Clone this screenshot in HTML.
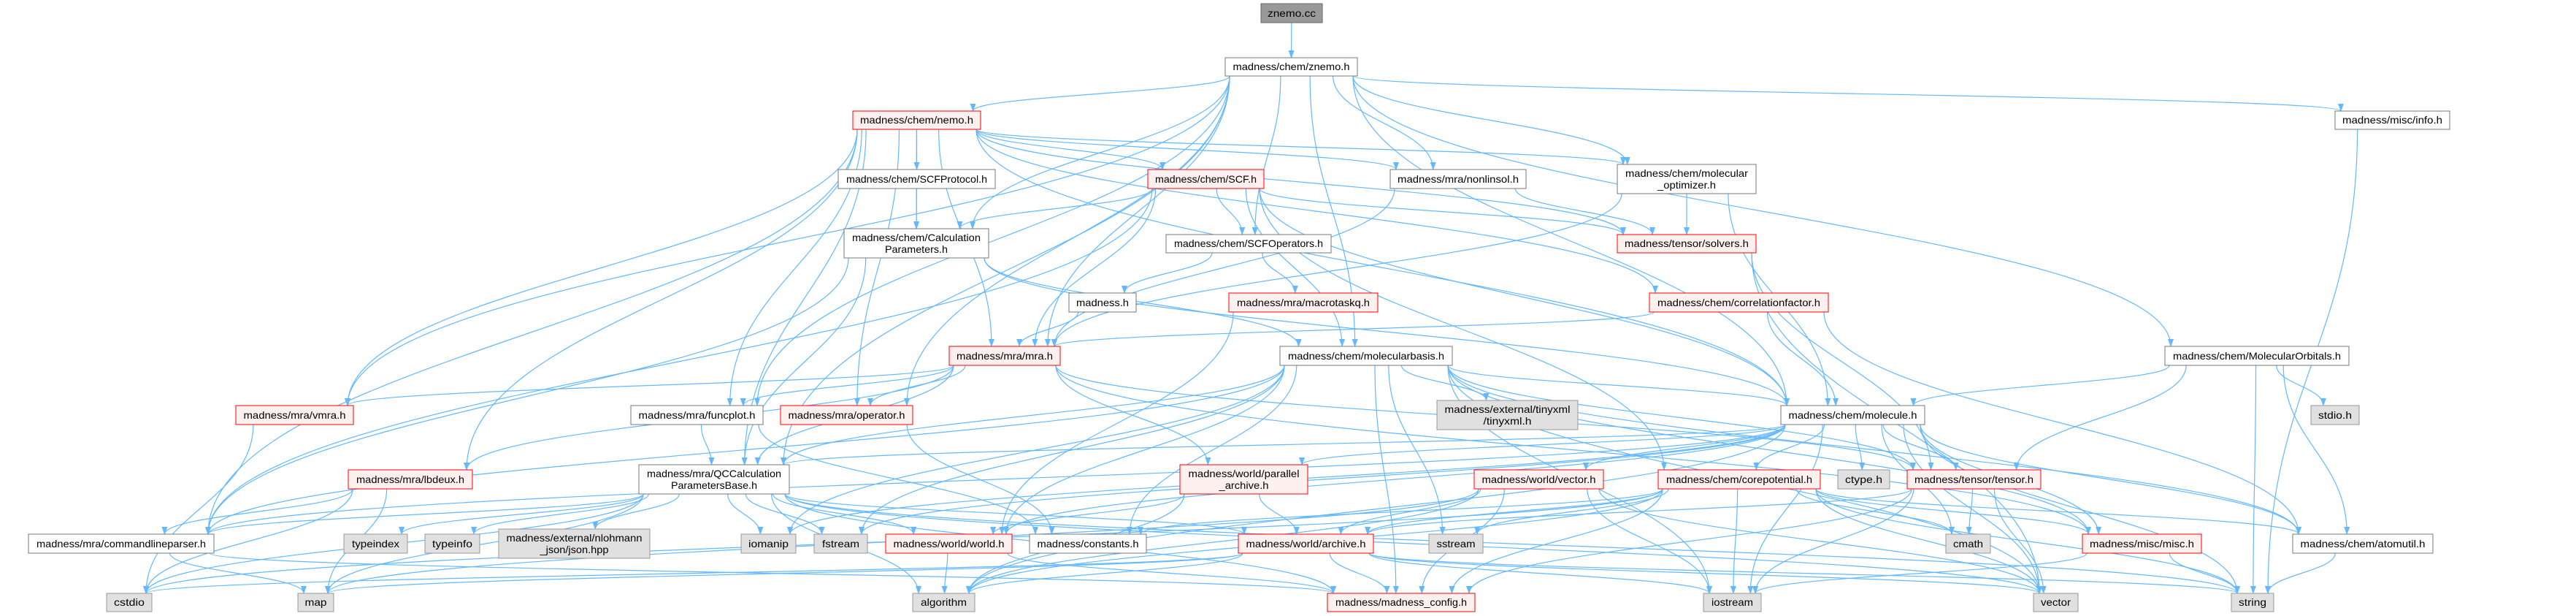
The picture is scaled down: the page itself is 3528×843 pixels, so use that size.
<!DOCTYPE html>
<html><head><meta charset="utf-8"><style>
html,body{margin:0;padding:0;background:#fff;}
svg{display:block;}
text{font-family:"Liberation Sans",sans-serif;font-size:14px;fill:#000;text-anchor:middle;}
</style></head><body>
<svg id="g" width="3528" height="843" viewBox="0 0 3528 843" xmlns="http://www.w3.org/2000/svg">
<defs><marker id="ah" markerWidth="11" markerHeight="8" refX="10" refY="4" orient="auto" markerUnits="userSpaceOnUse"><path d="M0,0 L11,4 L0,8 z" fill="#63b8ff"/></marker></defs>
<g id="edges" fill="none" stroke="#63b8ff" stroke-width="1.2"></g>
<g id="nodes">
<rect x="1727" y="5" width="84" height="26" fill="#999" stroke="#666"/><text x="1769" y="23" textLength="66" lengthAdjust="spacingAndGlyphs">znemo.cc</text>
<rect x="1678" y="79" width="181" height="25" fill="#fff" stroke="#777"/><text x="1768.5" y="96" textLength="160" lengthAdjust="spacingAndGlyphs">madness/chem/znemo.h</text>
<rect x="1168" y="152" width="175" height="25" fill="#fff0f0" stroke="#f00"/><text x="1255.5" y="169" textLength="155" lengthAdjust="spacingAndGlyphs">madness/chem/nemo.h</text>
<rect x="1148" y="232" width="215" height="26" fill="#fff" stroke="#777"/><text x="1255.5" y="250" textLength="193" lengthAdjust="spacingAndGlyphs">madness/chem/SCFProtocol.h</text>
<rect x="1572" y="232" width="159" height="26" fill="#fff0f0" stroke="#f00"/><text x="1651.5" y="250" textLength="139" lengthAdjust="spacingAndGlyphs">madness/chem/SCF.h</text>
<rect x="1904" y="232" width="186" height="26" fill="#fff" stroke="#777"/><text x="1997" y="250" textLength="166" lengthAdjust="spacingAndGlyphs">madness/mra/nonlinsol.h</text>
<rect x="2215" y="225" width="190" height="40" fill="#fff" stroke="#777"/><text x="2310" y="242" textLength="168" lengthAdjust="spacingAndGlyphs">madness/chem/molecular</text><text x="2310" y="258" textLength="80" lengthAdjust="spacingAndGlyphs">_optimizer.h</text>
<rect x="3198" y="152" width="157" height="25" fill="#fff" stroke="#777"/><text x="3276.5" y="169" textLength="137" lengthAdjust="spacingAndGlyphs">madness/misc/info.h</text>
<rect x="1156" y="313" width="198" height="40" fill="#fff" stroke="#777"/><text x="1255" y="330" textLength="176" lengthAdjust="spacingAndGlyphs">madness/chem/Calculation</text><text x="1255" y="346" textLength="86" lengthAdjust="spacingAndGlyphs">Parameters.h</text>
<rect x="1597" y="321" width="226" height="25" fill="#fff" stroke="#777"/><text x="1710" y="338" textLength="204" lengthAdjust="spacingAndGlyphs">madness/chem/SCFOperators.h</text>
<rect x="2215" y="321" width="190" height="25" fill="#fff0f0" stroke="#f00"/><text x="2310" y="338" textLength="170" lengthAdjust="spacingAndGlyphs">madness/tensor/solvers.h</text>
<rect x="1464" y="401" width="92" height="26" fill="#fff" stroke="#777"/><text x="1510" y="419" textLength="72" lengthAdjust="spacingAndGlyphs">madness.h</text>
<rect x="1683" y="401" width="204" height="26" fill="#fff0f0" stroke="#f00"/><text x="1785" y="419" textLength="182" lengthAdjust="spacingAndGlyphs">madness/mra/macrotaskq.h</text>
<rect x="2259" y="401" width="245" height="26" fill="#fff0f0" stroke="#f00"/><text x="2381.5" y="419" textLength="223" lengthAdjust="spacingAndGlyphs">madness/chem/correlationfactor.h</text>
<rect x="1300" y="474" width="152" height="26" fill="#fff0f0" stroke="#f00"/><text x="1376" y="492" textLength="132" lengthAdjust="spacingAndGlyphs">madness/mra/mra.h</text>
<rect x="1753" y="474" width="236" height="26" fill="#fff" stroke="#777"/><text x="1871" y="492" textLength="214" lengthAdjust="spacingAndGlyphs">madness/chem/molecularbasis.h</text>
<rect x="2965" y="474" width="252" height="26" fill="#fff" stroke="#777"/><text x="3091" y="492" textLength="230" lengthAdjust="spacingAndGlyphs">madness/chem/MolecularOrbitals.h</text>
<rect x="323" y="555" width="161" height="26" fill="#fff0f0" stroke="#f00"/><text x="403.5" y="573" textLength="140" lengthAdjust="spacingAndGlyphs">madness/mra/vmra.h</text>
<rect x="864" y="555" width="181" height="26" fill="#fff" stroke="#777"/><text x="954.5" y="573" textLength="160" lengthAdjust="spacingAndGlyphs">madness/mra/funcplot.h</text>
<rect x="1069" y="555" width="181" height="26" fill="#fff0f0" stroke="#f00"/><text x="1159.5" y="573" textLength="160" lengthAdjust="spacingAndGlyphs">madness/mra/operator.h</text>
<rect x="1968" y="548" width="193" height="40" fill="#e0e0e0" stroke="#999"/><text x="2064.5" y="565" textLength="172" lengthAdjust="spacingAndGlyphs">madness/external/tinyxml</text><text x="2064.5" y="581" textLength="66" lengthAdjust="spacingAndGlyphs">/tinyxml.h</text>
<rect x="2439" y="555" width="197" height="26" fill="#fff" stroke="#777"/><text x="2537.5" y="573" textLength="176" lengthAdjust="spacingAndGlyphs">madness/chem/molecule.h</text>
<rect x="3165" y="555" width="66" height="26" fill="#e0e0e0" stroke="#999"/><text x="3198" y="573" textLength="46" lengthAdjust="spacingAndGlyphs">stdio.h</text>
<rect x="875" y="636" width="206" height="40" fill="#fff" stroke="#777"/><text x="978" y="653" textLength="184" lengthAdjust="spacingAndGlyphs">madness/mra/QCCalculation</text><text x="978" y="669" textLength="118" lengthAdjust="spacingAndGlyphs">ParametersBase.h</text>
<rect x="477" y="643" width="170" height="26" fill="#fff0f0" stroke="#f00"/><text x="562" y="661" textLength="148" lengthAdjust="spacingAndGlyphs">madness/mra/lbdeux.h</text>
<rect x="1616" y="636" width="175" height="40" fill="#fff0f0" stroke="#f00"/><text x="1703.5" y="653" textLength="152" lengthAdjust="spacingAndGlyphs">madness/world/parallel</text><text x="1703.5" y="669" textLength="68" lengthAdjust="spacingAndGlyphs">_archive.h</text>
<rect x="2019" y="643" width="177" height="26" fill="#fff0f0" stroke="#f00"/><text x="2107.5" y="661" textLength="156" lengthAdjust="spacingAndGlyphs">madness/world/vector.h</text>
<rect x="2271" y="643" width="222" height="26" fill="#fff0f0" stroke="#f00"/><text x="2382" y="661" textLength="200" lengthAdjust="spacingAndGlyphs">madness/chem/corepotential.h</text>
<rect x="2517" y="643" width="71" height="26" fill="#e0e0e0" stroke="#999"/><text x="2552.5" y="661" textLength="51" lengthAdjust="spacingAndGlyphs">ctype.h</text>
<rect x="2612" y="643" width="183" height="26" fill="#fff0f0" stroke="#f00"/><text x="2703.5" y="661" textLength="163" lengthAdjust="spacingAndGlyphs">madness/tensor/tensor.h</text>
<rect x="39" y="731" width="254" height="26" fill="#fff" stroke="#777"/><text x="166" y="749" textLength="232" lengthAdjust="spacingAndGlyphs">madness/mra/commandlineparser.h</text>
<rect x="471" y="731" width="87" height="26" fill="#e0e0e0" stroke="#999"/><text x="514.5" y="749" textLength="65" lengthAdjust="spacingAndGlyphs">typeindex</text>
<rect x="582" y="731" width="75" height="26" fill="#e0e0e0" stroke="#999"/><text x="619.5" y="749" textLength="55" lengthAdjust="spacingAndGlyphs">typeinfo</text>
<rect x="683" y="724" width="207" height="40" fill="#e0e0e0" stroke="#999"/><text x="786.5" y="741" textLength="186" lengthAdjust="spacingAndGlyphs">madness/external/nlohmann</text><text x="786.5" y="757" textLength="94" lengthAdjust="spacingAndGlyphs">_json/json.hpp</text>
<rect x="1015" y="731" width="75" height="26" fill="#e0e0e0" stroke="#999"/><text x="1052.5" y="749" textLength="55" lengthAdjust="spacingAndGlyphs">iomanip</text>
<rect x="1115" y="731" width="73" height="26" fill="#e0e0e0" stroke="#999"/><text x="1151.5" y="749" textLength="51" lengthAdjust="spacingAndGlyphs">fstream</text>
<rect x="1213" y="731" width="173" height="26" fill="#fff0f0" stroke="#f00"/><text x="1299.5" y="749" textLength="152" lengthAdjust="spacingAndGlyphs">madness/world/world.h</text>
<rect x="1410" y="731" width="160" height="26" fill="#fff" stroke="#777"/><text x="1490" y="749" textLength="139" lengthAdjust="spacingAndGlyphs">madness/constants.h</text>
<rect x="1696" y="731" width="185" height="26" fill="#fff0f0" stroke="#f00"/><text x="1788.5" y="749" textLength="164" lengthAdjust="spacingAndGlyphs">madness/world/archive.h</text>
<rect x="1957" y="731" width="74" height="26" fill="#e0e0e0" stroke="#999"/><text x="1994" y="749" textLength="53" lengthAdjust="spacingAndGlyphs">sstream</text>
<rect x="2665" y="731" width="61" height="26" fill="#e0e0e0" stroke="#999"/><text x="2695.5" y="749" textLength="41" lengthAdjust="spacingAndGlyphs">cmath</text>
<rect x="2852" y="731" width="163" height="26" fill="#fff0f0" stroke="#f00"/><text x="2933.5" y="749" textLength="143" lengthAdjust="spacingAndGlyphs">madness/misc/misc.h</text>
<rect x="3140" y="731" width="192" height="26" fill="#fff" stroke="#777"/><text x="3236" y="749" textLength="171" lengthAdjust="spacingAndGlyphs">madness/chem/atomutil.h</text>
<rect x="146" y="812" width="62" height="25" fill="#e0e0e0" stroke="#999"/><text x="177" y="829" textLength="42" lengthAdjust="spacingAndGlyphs">cstdio</text>
<rect x="408" y="812" width="49" height="25" fill="#e0e0e0" stroke="#999"/><text x="432.5" y="829" textLength="30" lengthAdjust="spacingAndGlyphs">map</text>
<rect x="1250" y="812" width="85" height="25" fill="#e0e0e0" stroke="#999"/><text x="1292.5" y="829" textLength="63" lengthAdjust="spacingAndGlyphs">algorithm</text>
<rect x="1818" y="812" width="202" height="25" fill="#fff0f0" stroke="#f00"/><text x="1919" y="829" textLength="180" lengthAdjust="spacingAndGlyphs">madness/madness_config.h</text>
<rect x="2333" y="812" width="79" height="25" fill="#e0e0e0" stroke="#999"/><text x="2372.5" y="829" textLength="57" lengthAdjust="spacingAndGlyphs">iostream</text>
<rect x="2785" y="812" width="61" height="25" fill="#e0e0e0" stroke="#999"/><text x="2815.5" y="829" textLength="41" lengthAdjust="spacingAndGlyphs">vector</text>
<rect x="3056" y="812" width="58" height="25" fill="#e0e0e0" stroke="#999"/><text x="3085" y="829" textLength="38" lengthAdjust="spacingAndGlyphs">string</text>
</g>
</svg>
<script>
var N={cc:[1727,1811,5,31],zh:[1678,1859,79,104],nemo:[1168,1343,152,177],scfp:[1148,1363,232,258],scf:[1572,1731,232,258],nls:[1904,2090,232,258],mopt:[2215,2405,225,265],info:[3198,3355,152,177],calc:[1156,1354,313,353],scfo:[1597,1823,321,346],solv:[2215,2405,321,346],mad:[1464,1556,401,427],mtq:[1683,1887,401,427],corr:[2259,2504,401,427],mra:[1300,1452,474,500],mb:[1753,1989,474,500],mo:[2965,3217,474,500],vmra:[323,484,555,581],fp:[864,1045,555,581],op:[1069,1250,555,581],tx:[1968,2161,548,588],mol:[2439,2636,555,581],stdio:[3165,3231,555,581],qc:[875,1081,636,676],lb:[477,647,643,669],par:[1616,1791,636,676],vec:[2019,2196,643,669],cp:[2271,2493,643,669],ct:[2517,2588,643,669],ten:[2612,2795,643,669],cmd:[39,293,731,757],ti:[471,558,731,757],tf:[582,657,731,757],js:[683,890,724,764],iom:[1015,1090,731,757],fs:[1115,1188,731,757],wo:[1213,1386,731,757],con:[1410,1570,731,757],ar:[1696,1881,731,757],ss:[1957,2031,731,757],cm:[2665,2726,731,757],misc:[2852,3015,731,757],au:[3140,3332,731,757],cs:[146,208,812,837],map:[408,457,812,837],alg:[1250,1335,812,837],cfg:[1818,2020,812,837],ios:[2333,2412,812,837],vc:[2785,2846,812,837],str:[3056,3114,812,837]};
var E={cc:"zh",zh:"nemo calc scfo nls mopt info mo mol mb mra vmra op qc fp",nemo:"scfp scf calc nls mopt solv corr mra vmra fp op lb cmd qc mol",scfp:"calc",scf:"calc scfo solv mra mb mol cp cmd",calc:"qc cmd mol mb",scfo:"mad mtq",mad:"mra",mtq:"wo",nls:"solv mra",mopt:"solv mol mra",solv:"ten vc",corr:"mra mol au",mra:"vmra fp op lb par ten qc misc",vmra:"cs",fp:"qc con",op:"con",lb:"map cs cmd",mb:"mol tx wo con ss cfg ios misc au ten vc qc cmd iom fs",mo:"mol stdio au ten str",mol:"vec cp ct ten cm misc au ios vc str qc par wo fs iom cmd alg",qc:"cmd ti tf js iom fs wo ar cs map alg cfg str vc",par:"ar wo alg",vec:"ar ios vc alg cfg map",cp:"ios vc str cm con ar cfg alg misc au ss cs",ten:"cm vc ios cfg ar",cmd:"map cfg",wo:"cfg alg",ar:"cfg ios vc str alg map cs",misc:"ios str",au:"str",info:"str"};
var g=document.getElementById("edges"),s="";
function cl(v,a,b){return Math.max(a,Math.min(b,v));}
for(var a in E){E[a].split(" ").forEach(function(b){var A=N[a],B=N[b];var acx=(A[0]+A[1])/2,bcx=(B[0]+B[1])/2;
var sx=cl(acx+(bcx-acx)*0.25,A[0]+6,A[1]-6),sy=A[3];var ex=cl(bcx+(acx-bcx)*0.15,B[0]+8,B[1]-8),ey=B[2];var dy=ey-sy;
s+='<path d="M'+sx+','+sy+' C'+sx+','+(sy+dy*0.45)+' '+ex+','+(ey-dy*0.45)+' '+ex+','+ey+'" marker-end="url(#ah)"/>';});}
g.innerHTML=s;
</script>
</body></html>
